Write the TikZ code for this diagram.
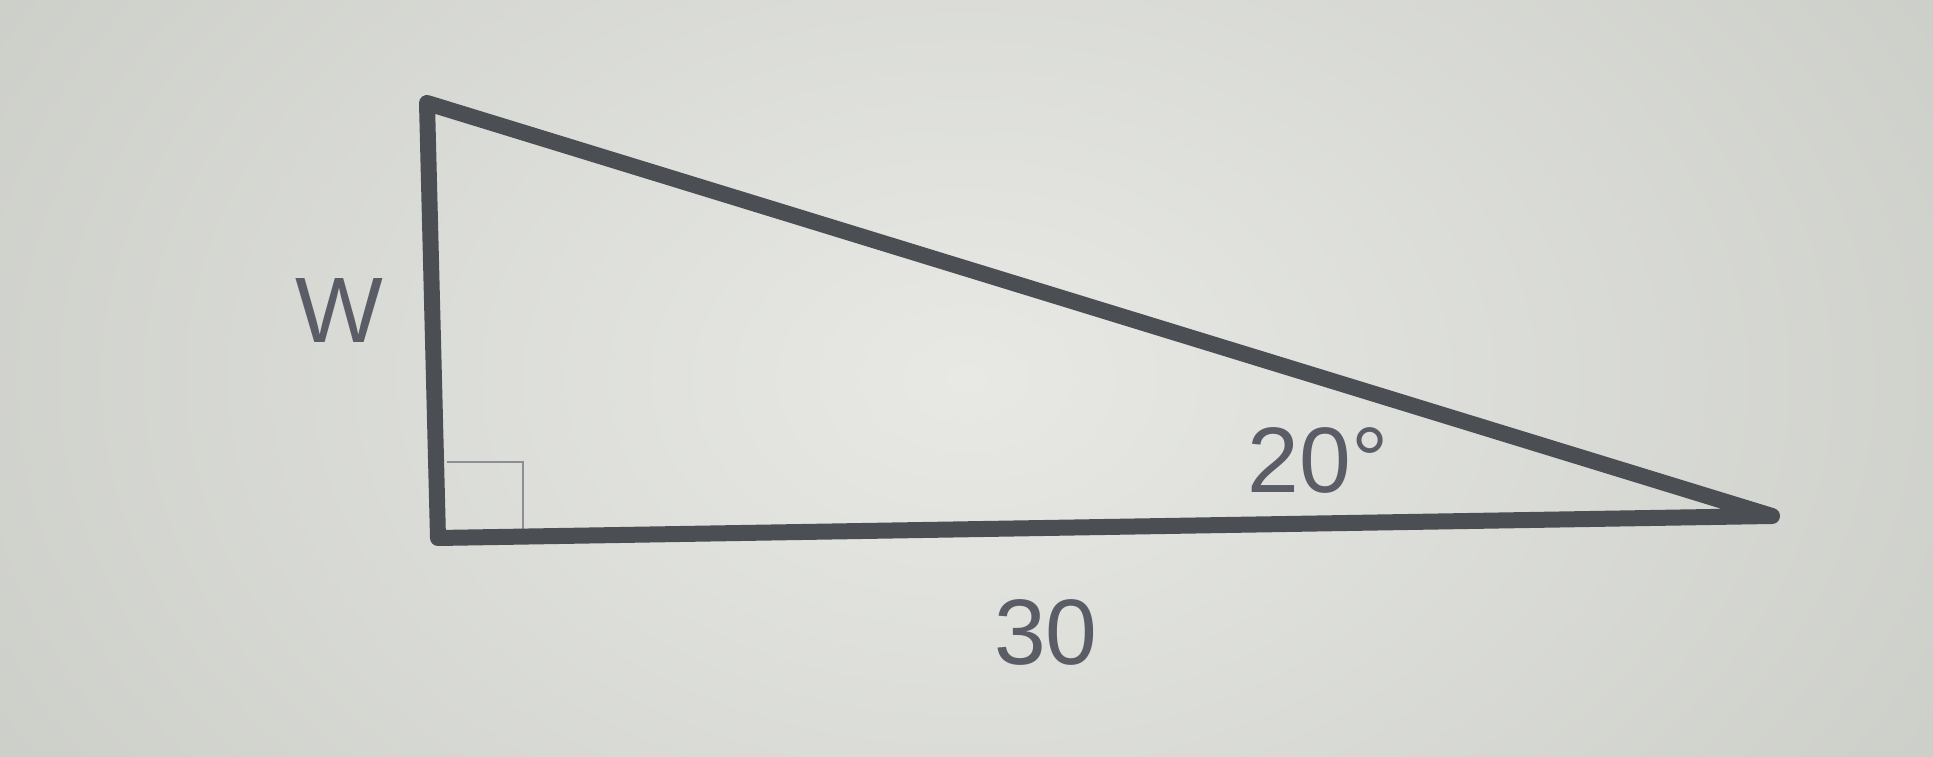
\documentclass[tikz,border=0pt]{standalone}
\usepackage{fontspec}
\setmainfont{Liberation Sans}
\definecolor{bgin}{HTML}{E8E9E5}
\definecolor{bgout}{HTML}{C9CBC5}
\definecolor{edge}{HTML}{4B4E52}
\definecolor{txt}{HTML}{5A5D66}
\definecolor{mark}{HTML}{8C8F93}
\begin{document}
\begin{tikzpicture}[x=1pt,y=1pt,
  side/.style={draw=edge,line width=16pt,line join=round,line cap=round},
  lbl/.style={text=txt,inner sep=0pt,font=\fontsize{93}{100}\selectfont},
  rmark/.style={draw=mark,line width=2.5pt}]
\useasboundingbox (0,0) rectangle (1933,757);
\shade[inner color=bgin,outer color=bgout] (-300,-500) rectangle (2233,1257);
\coordinate (A) at (427,654);
\coordinate (B) at (438,219);
\coordinate (C) at (1772,241);
\coordinate (R1) at (447,295);
\coordinate (R2) at (523,295);
\coordinate (R3) at (523,225);
\draw[rmark] (R1) -- (R2) -- (R3);
\draw[side] (A) -- (B) -- (C) -- cycle;
\node[lbl] (w) at (339,446) {W};
\node[lbl] (ang) at (1318,297) {20°};
\node[lbl] (base) at (1046,125) {30};
\end{tikzpicture}
\end{document}
